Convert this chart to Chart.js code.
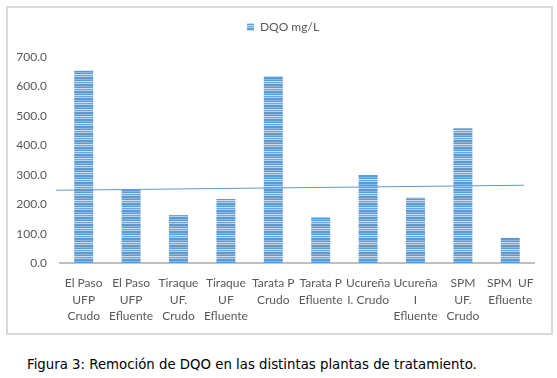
<!DOCTYPE html>
<html>
<head>
<meta charset="utf-8">
<script src="https://cdn.jsdelivr.net/npm/chart.js@4"></script>
<style>
  body { margin: 0; background: #fff; }
  #box {
    position: absolute; left: 6px; top: 6px;
    width: 543px; height: 325px;
    border: 2px solid #d9d9d9;
  }
  #caption {
    position: absolute; left: 27px; top: 357px;
    font-family: "DejaVu Sans", sans-serif; font-size: 13.3px; color: #000;
    white-space: nowrap;
  }
</style>
</head>
<body>
<div id="box"><canvas id="chart"></canvas></div>
<div id="caption">Figura 3: Remoción de DQO en las distintas plantas de tratamiento.</div>
<script>
// Data
const plants = [
  ['El Paso', 'UFP', 'Crudo'],
  ['El Paso', 'UFP', 'Efluente'],
  ['Tiraque', 'UF.', 'Crudo'],
  ['Tiraque', 'UF', 'Efluente'],
  ['Tarata P', 'Crudo'],
  ['Tarata P', 'Efluente'],
  ['Ucureña', 'I. Crudo'],
  ['Ucureña', 'I', 'Efluente'],
  ['SPM', 'UF.', 'Crudo'],
  ['SPM  UF', 'Efluente']
];
const dqo = [653, 251, 164, 218, 635, 156, 300, 223, 459, 87];
// trend line ends, in category units (x) and mg/L (y)
const trendX = [-0.58, 9.29];
const trendY = [248, 265];
const yTicks = [0, 100, 200, 300, 400, 500, 600, 700];

// striped fill like the Excel texture
function stripes() {
  const c = document.createElement('canvas');
  c.width = 4; c.height = 7;
  const g = c.getContext('2d');
  const rows = ['#5b9bd5', '#8ab8e2', '#5b9bd5', '#c9dff3', '#6ea6da', '#b3d1ed', '#5b9bd5'];
  rows.forEach((col, i) => { g.fillStyle = col; g.fillRect(0, i, 4, 1); });
  return g.createPattern(c, 'repeat');
}
const fill = stripes();

// legend: a bit to the right and more room below it, as in the original
const legendTweak = {
  id: 'legendTweak',
  beforeInit(chart) {
    const fit = chart.legend.fit;
    chart.legend.fit = function () {
      fit.call(this);
      this.height += 14;
    };
  },
  afterLayout(chart) {
    chart.legend.left += 12;
    chart.legend.right += 12;
  }
};

const ctx = document.getElementById('chart').getContext('2d');
new Chart(ctx, {
  data: {
    labels: plants,
    datasets: [{
      type: 'bar',
      label: 'DQO mg/L',
      data: dqo,
      backgroundColor: fill,
      borderWidth: 0,
      grouped: false,
      barPercentage: 0.8,
      categoryPercentage: 0.5,
      order: 2
    }, {
      type: 'line',
      label: 'trend',
      xAxisID: 'xt',
      data: trendX.map((x, i) => ({ x: x, y: trendY[i] })),
      borderColor: '#5b9bd5',
      borderWidth: 1,
      pointRadius: 0,
      clip: false,
      order: 1
    }]
  },
  options: {
    responsive: true,
    maintainAspectRatio: false,
    animation: false,
    layout: { padding: { left: 0, right: 17, top: 3, bottom: 5 } },
    plugins: {
      legend: {
        position: 'top',
        labels: {
          filter: item => item.text === 'DQO mg/L',
          boxWidth: 7, boxHeight: 7,
          color: '#595959',
          font: { family: 'Lato', size: 12 }
        }
      },
      tooltip: { enabled: false }
    },
    scales: {
      x: {
        type: 'category',
        grid: { display: false },
        border: { display: true, color: '#bfbfbf', width: 2 },
        ticks: {
          color: '#595959', maxRotation: 0, autoSkip: false, padding: 4,
          font: { family: 'Lato', size: 12, lineHeight: 1.35 }
        }
      },
      xt: {
        type: 'linear', display: false, min: -0.5, max: 9.5
      },
      y: {
        min: 0, max: 700,
        afterBuildTicks: axis => { axis.ticks = yTicks.map(v => ({ value: v })); },
        afterFit: axis => { axis.width = 52; },
        grid: { display: false },
        border: { display: false },
        ticks: {
          color: '#595959', padding: 5,
          font: { family: 'Lato', size: 12 },
          callback: v => v.toFixed(1)
        }
      }
    }
  },
  plugins: [legendTweak]
});
</script>
</body>
</html>
